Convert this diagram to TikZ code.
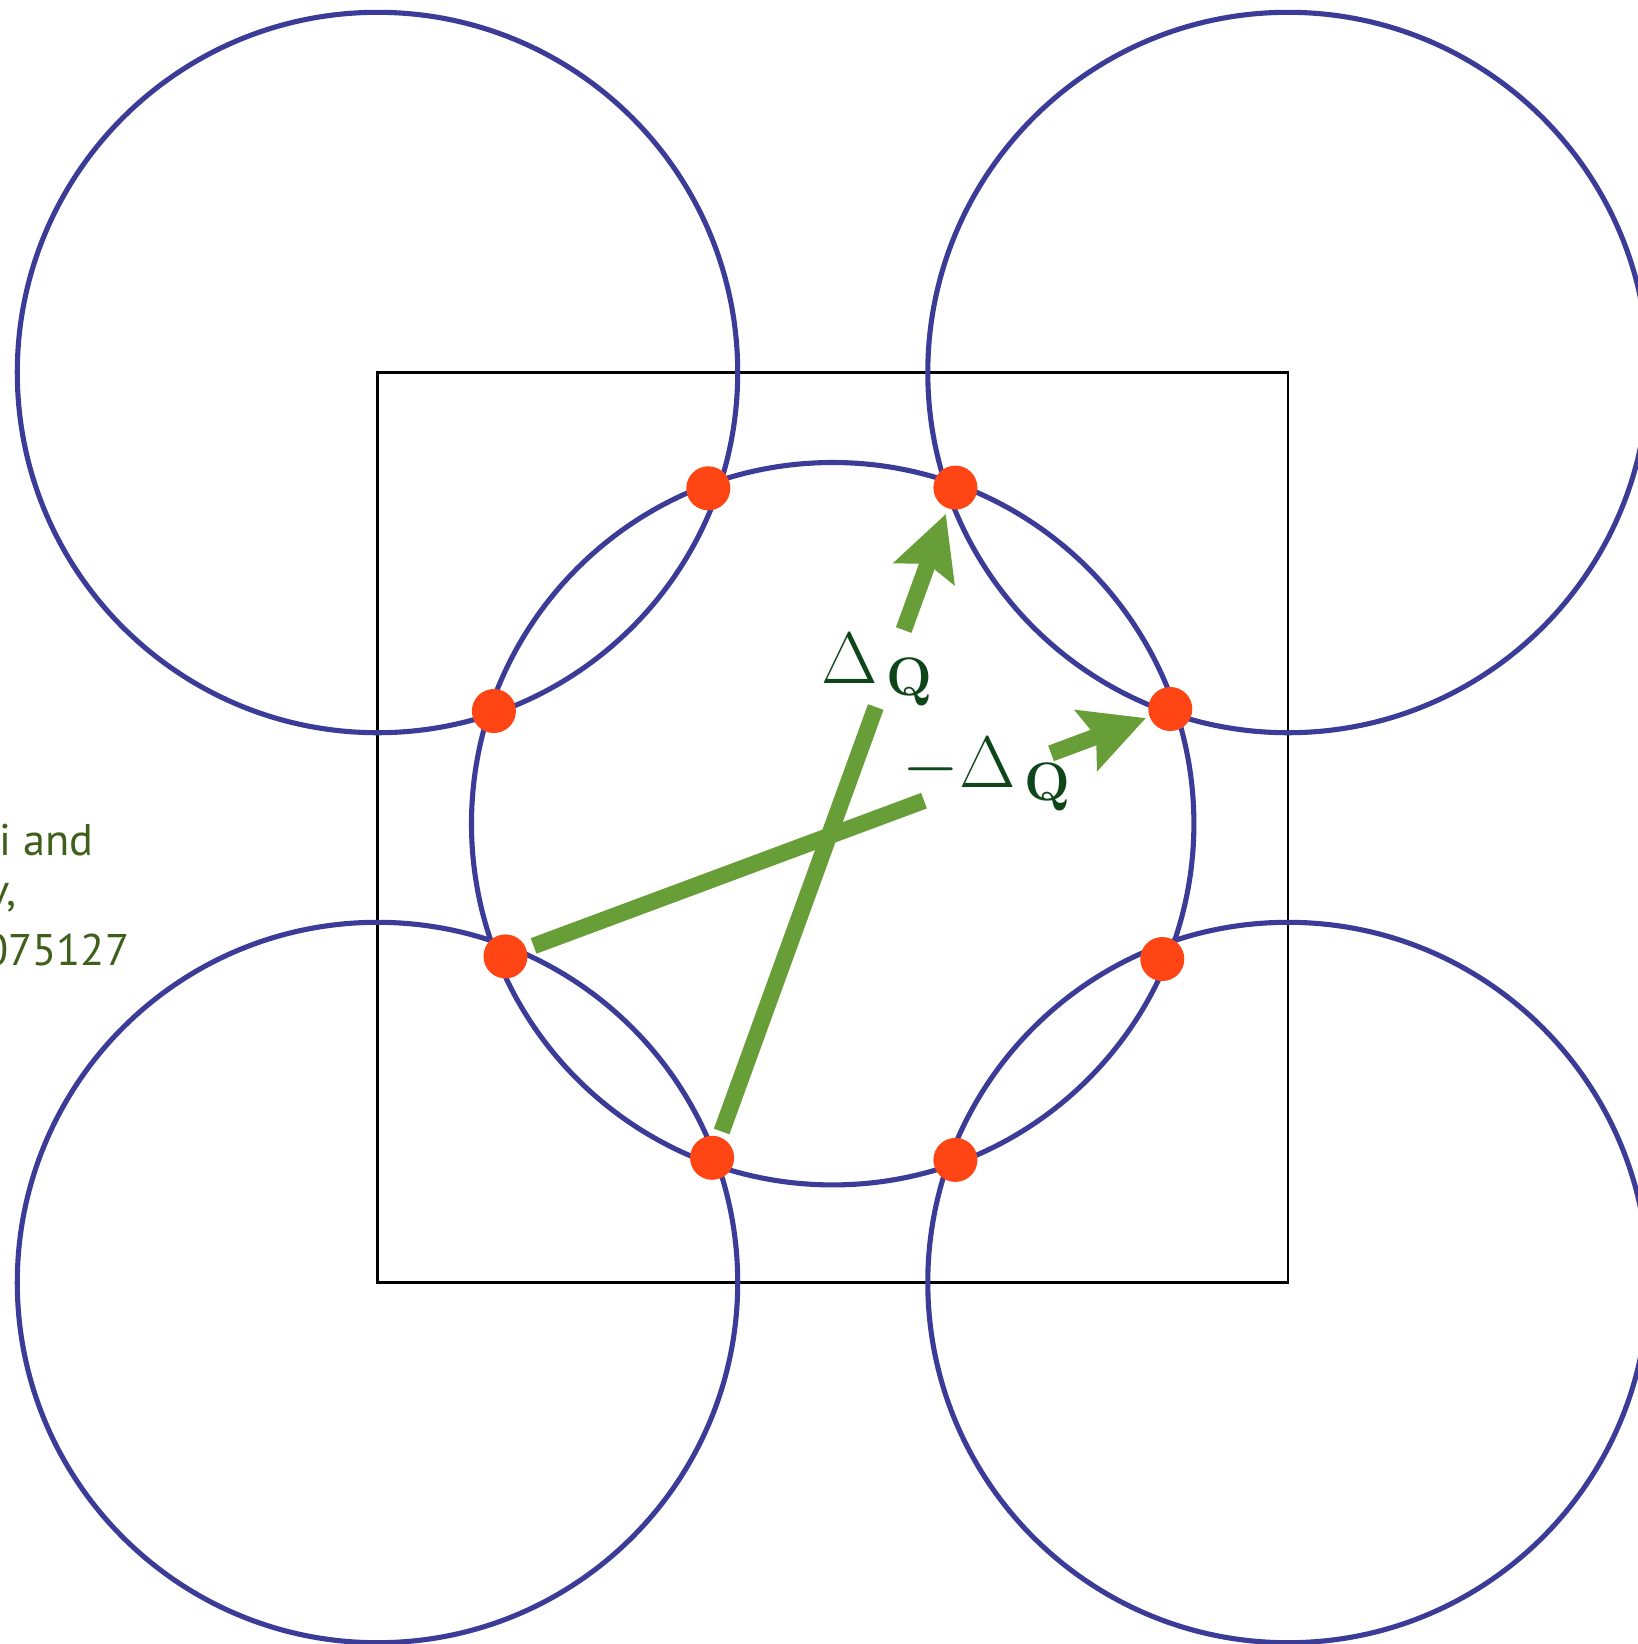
\documentclass[tikz,border=0pt]{standalone}
\usepackage{amsmath}
\usepackage[no-math]{fontspec}
\newfontfamily\refsans{PT Sans}
\usetikzlibrary{arrows.meta,calc}
\definecolor{circblue}{RGB}{58,60,152}
\definecolor{dotred}{RGB}{255,69,20}
\definecolor{arrgreen}{RGB}{104,158,56}
\definecolor{labgreen}{RGB}{14,70,26}
\definecolor{refgreen}{RGB}{62,96,26}
\begin{document}
\begin{tikzpicture}[x=0.01cm,y=-0.01cm,
  ring/.style={draw=circblue, line width=1.45pt},
  dot/.style={circle, fill=dotred, inner sep=0pt, outer sep=0pt, minimum size=0.44cm},
  qline/.style={draw=arrgreen, line width=4.7pt},
  qtip/.style={-{Stealth[length=0.63cm,width=0.63cm,inset=0.1cm]}},
  qlabel/.style={text=labgreen, inner sep=0pt, anchor=base west, font=\fontsize{22}{26}\selectfont},
  reftext/.style={text=refgreen, inner sep=0pt, font=\refsans\fontsize{12.6}{16}\selectfont}]
\useasboundingbox (0,0) rectangle (1638,1644);
\fill[white] (0,0) rectangle (1638,1644);
\clip (0,0) rectangle (1638,1644);
% square
\draw[line width=0.6pt] (377.5,372.5) rectangle (1288,1282.5);
% circles
\draw[ring] (377.5,372.5) circle[radius=3.60cm];
\draw[ring] (1288,372.5) circle[radius=3.60cm];
\draw[ring] (377.5,1282.5) circle[radius=3.60cm];
\draw[ring] (1288,1282.5) circle[radius=3.60cm];
\draw[ring] (832.7,823.7) circle[radius=3.61cm];
% dots
\node[dot] (b1) at (708.3,488.3) {};
\node[dot] (b2) at (955.4,487.6) {};
\node[dot] (b3) at (493.9,711.0) {};
\node[dot] (b4) at (1170.3,709.0) {};
\node[dot] (b5) at (505.5,956.4) {};
\node[dot] (b6) at (1162.3,959.0) {};
\node[dot] (b7) at (712.1,1157.8) {};
\node[dot] (b8) at (955.4,1159.9) {};
% Delta Q arrow
\coordinate (ga1) at ($(b7)!0.6726!(b2)$);
\coordinate (ga2) at ($(b7)!0.7875!(b2)$);
\draw[qline, shorten <=0.06cm] (b7) -- (ga1);
\draw[qline, qtip, shorten >=0.06cm] (ga2) -- (b2);
% -Delta Q arrow
\coordinate (gb1) at ($(b5)!0.6295!(b4)$);
\coordinate (gb2) at ($(b5)!0.8206!(b4)$);
\draw[qline, shorten <=0.08cm] (b5) -- (gb1);
\draw[qline, qtip, shorten >=0.04cm] (gb2) -- (b4);
% labels
\node[qlabel] (lq) at (821,683.3) {$\Delta_{\,\textbf{Q}}$};
\node[qlabel] (lmq) at (902,787.7) {$-\Delta_{\,\textbf{Q}}$};
% reference text (cut by the left edge, as in the reference)
\node[reftext, anchor=base west] (r1) at (-1,855) {i and};
\node[reftext, anchor=base east] (r2) at (17,905) {v,};
\node[reftext, anchor=base east] (r3) at (130,965) {075127};
\end{tikzpicture}
\end{document}
